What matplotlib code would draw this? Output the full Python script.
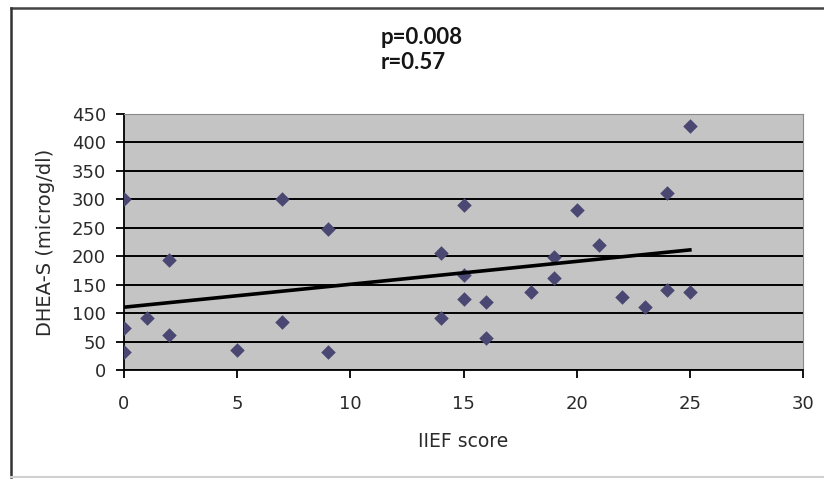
import numpy as np
import matplotlib.pyplot as plt
from matplotlib.lines import Line2D

plt.rcParams['font.family'] = ['DejaVu Sans']

# IIEF score vs DHEA-S
iief = [0, 0, 0, 1, 2, 2, 5, 7, 7, 9, 9, 14, 14, 15, 15, 15, 16, 16,
        18, 19, 19, 20, 21, 22, 23, 24, 24, 25, 25]
dheas = [300, 73, 31, 92, 193, 61, 35, 300, 85, 248, 31, 206, 92, 290, 167, 124, 120, 56,
         137, 199, 161, 281, 220, 129, 111, 311, 141, 429, 137]
x_ticks = [0, 5, 10, 15, 20, 25, 30]
y_ticks = [0, 50, 100, 150, 200, 250, 300, 350, 400, 450]
stats_text = "p=0.008\nr=0.57"

fig = plt.figure(figsize=(8.24, 4.79), dpi=100)
ax = fig.add_axes([124 / 824, 1 - 370 / 479, (803 - 124) / 824, (370 - 114) / 479])

ax.set_facecolor('#c4c4c4')
ax.set_xlim(0, 30)
ax.set_ylim(0, 450)
ax.set_xticks(x_ticks)
ax.set_yticks(y_ticks)
ax.yaxis.grid(True, color='black', linewidth=1.4)
ax.set_axisbelow(True)

for side in ['top', 'right']:
    ax.spines[side].set_color('#8a8a8a')
for side in ['left', 'bottom']:
    ax.spines[side].set_color('black')
    ax.spines[side].set_linewidth(1.3)

ax.tick_params(axis='both', direction='out', length=6, width=1.3, labelsize=13,
               colors='black')
ax.tick_params(axis='x', pad=12)
ax.tick_params(axis='y', pad=7)
for lab in ax.get_xticklabels() + ax.get_yticklabels():
    lab.set_color('#2a2a2a')

ax.scatter(iief, dheas, marker='D', s=55, color='#4a4872', zorder=3, linewidths=0)

# linear trend line over the data range
slope, icpt = np.polyfit(iief, dheas, 1)
xs = np.array([min(iief), max(iief)])
ax.plot(xs, slope * xs + icpt, color='black', linewidth=2.6, zorder=4)

ax.set_xlabel('IIEF score', fontsize=13.5, labelpad=14, color='#2a2a2a')
ax.set_ylabel('DHEA-S (microg/dl)', fontsize=14, labelpad=12, color='#2a2a2a')

fig.text(381 / 824, 1 - 27 / 479, stats_text, ha='left', va='top', fontsize=16,
         fontweight='bold', family='Lato', linespacing=1.25, color='#151515')

# chart frame: dark top and left edge, light bottom edge
fig.lines.append(Line2D([11 / 824, 1], [1 - 8 / 479, 1 - 8 / 479],
                        transform=fig.transFigure, color='#444444', linewidth=1.8))
fig.lines.append(Line2D([11 / 824, 11 / 824], [1 - 8 / 479, 1 - 477 / 479],
                        transform=fig.transFigure, color='#333333', linewidth=1.8))
fig.lines.append(Line2D([11 / 824, 1], [1 - 477 / 479, 1 - 477 / 479],
                        transform=fig.transFigure, color='#d0d0d0', linewidth=1.5))

fig.savefig('out.png', dpi=100)
